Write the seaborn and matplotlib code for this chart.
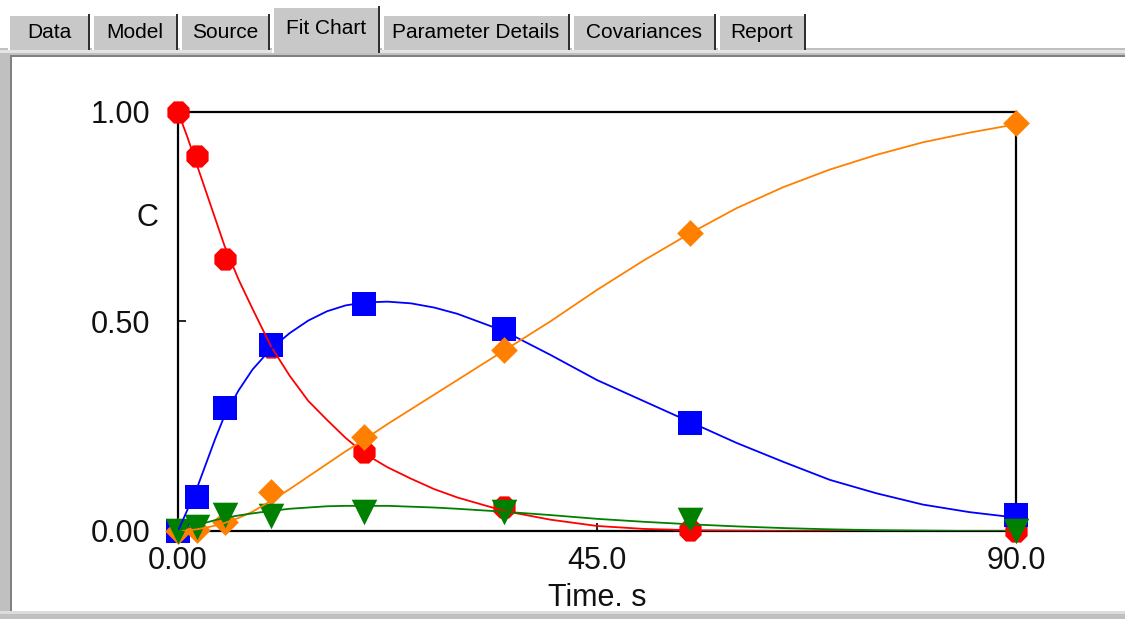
import numpy as np
import pandas as pd
import matplotlib
matplotlib.use("Agg")
import matplotlib.pyplot as plt
from matplotlib.patches import Rectangle
import seaborn as sns

# ---------------- data ----------------
t_obs = [0, 2, 5, 10, 20, 35, 55, 90]
red_obs = [1.000, 0.895, 0.649, 0.440, 0.188, 0.057, 0.002, 0.000]
blue_obs = [0.000, 0.081, 0.293, 0.444, 0.541, 0.482, 0.258, 0.038]
orange_obs = [0.000, 0.002, 0.021, 0.093, 0.224, 0.432, 0.711, 0.973]
green_obs = [0.000, 0.010, 0.038, 0.036, 0.045, 0.045, 0.026, 0.000]

t_fit = [0, 1, 2, 3, 4, 5, 6.5, 8, 10, 12, 14, 16, 18, 20, 22.5, 25, 27.5,
         30, 35, 40, 45, 50, 55, 60, 65, 70, 75, 80, 85, 90]
red_fit = [1.000, 0.940, 0.875, 0.810, 0.745, 0.680, 0.600, 0.530, 0.440,
           0.370, 0.310, 0.265, 0.222, 0.185, 0.152, 0.125, 0.100, 0.080,
           0.048, 0.027, 0.012, 0.005, 0.002, 0.001, 0.000, 0.000, 0.000,
           0.000, 0.000, 0.000]
blue_fit = [0.000, 0.050, 0.100, 0.160, 0.220, 0.275, 0.335, 0.385, 0.435,
            0.472, 0.502, 0.524, 0.538, 0.545, 0.547, 0.543, 0.533, 0.518,
            0.477, 0.420, 0.360, 0.310, 0.260, 0.210, 0.165, 0.122, 0.090,
            0.063, 0.045, 0.032]
orange_fit = [0.000, 0.001, 0.004, 0.008, 0.013, 0.019, 0.031, 0.046, 0.072,
              0.100, 0.130, 0.160, 0.190, 0.218, 0.255, 0.290, 0.325, 0.360,
              0.430, 0.500, 0.575, 0.645, 0.710, 0.770, 0.820, 0.862, 0.897,
              0.927, 0.950, 0.970]
green_fit = [0.000, 0.008, 0.015, 0.020, 0.026, 0.031, 0.037, 0.042, 0.048,
             0.053, 0.056, 0.059, 0.060, 0.060, 0.060, 0.058, 0.056, 0.053,
             0.046, 0.038, 0.029, 0.022, 0.016, 0.011, 0.007, 0.004, 0.002,
             0.001, 0.000, 0.000]

species = ["A", "B", "C", "D"]
colors = ["#ff0000", "#0000ff", "#ff8000", "#008000"]
markers = ["8", "s", "D", "v"]
msizes = [300, 290, 185, 340]

x_ticks = [0, 45, 90]
x_ticklabels = ["0.00", "45.0", "90.0"]
y_ticks = [0, 0.5, 1.0]
y_ticklabels = ["0.00", "0.50", "1.00"]
tab_labels = ["Data", "Model", "Source", "Fit Chart", "Parameter Details",
              "Covariances", "Report"]

# ---------------- figure ----------------
W, H = 1125, 619
sns.set_theme(style="white")
plt.rcParams["font.family"] = ["Liberation Sans", "DejaVu Sans"]

fig = plt.figure(figsize=(W / 100, H / 100), dpi=100)
fig.patch.set_facecolor("white")


def rect(x0, y0, x1, y1, color, z=-10):
    fig.add_artist(Rectangle((x0 / W, 1 - y1 / H), (x1 - x0) / W, (y1 - y0) / H,
                             transform=fig.transFigure, facecolor=color,
                             edgecolor="none", zorder=z))


# window chrome: panel frame
rect(0, 48, W, H, "#c0c0c0")
rect(0, 50, W, 53, "#e4e4e4", z=-9)
rect(10, 55, W, 57, "#808080", z=-9)
rect(10, 55, 12, 611, "#808080", z=-9)
rect(12, 57, W, 611, "white", z=-8)
rect(0, 611, W, 614, "#dcdcdc", z=-8)

# tabs
tab_x = [(8, 90), (92, 178), (180, 270), (272, 380), (382, 570),
         (572, 716), (718, 806)]
for lab, (x0, x1) in zip(tab_labels, tab_x):
    sel = lab == "Fit Chart"
    y0 = 6 if sel else 14
    y1 = 53 if sel else 50
    rect(x0, y0, x1, y1, "#c8c8c8", z=-7)
    rect(x0, y0, x1 - 2, y0 + 1.5, "white", z=-6)
    rect(x0, y0, x0 + 1.5, y1, "white", z=-6)
    rect(x1 - 2.5, y0, x1, y1, "#303030", z=-6)
    cy = 28 if sel else 33
    fig.text((x0 + x1) / 2 / W, 1 - cy / H, lab, ha="center", va="center",
             fontsize=15, color="black")

# ---------------- axes ----------------
ax_l, ax_r, ax_t, ax_b = 178, 1016, 111.7, 531
ax = fig.add_axes([ax_l / W, 1 - ax_b / H, (ax_r - ax_l) / W, (ax_b - ax_t) / H])
ax.set_facecolor("white")

fit_df = pd.DataFrame({
    "t": t_fit * 4,
    "C": red_fit + blue_fit + orange_fit + green_fit,
    "species": sum([[s] * len(t_fit) for s in species], []),
})
obs_list = [red_obs, blue_obs, orange_obs, green_obs]

for s, c, m, ms, obs in zip(species, colors, markers, msizes, obs_list):
    sns.scatterplot(x=t_obs, y=obs, color=c, marker=m, s=ms, linewidth=0,
                    ax=ax, clip_on=False, zorder=3, legend=False)

sns.lineplot(data=fit_df, x="t", y="C", hue="species",
             palette=dict(zip(species, colors)), legend=False,
             linewidth=1.3, sort=False, estimator=None, ax=ax, zorder=4)

ax.set_xlim(0, 90)
ax.set_ylim(0, 1)
for sp in ax.spines.values():
    sp.set_visible(True)
    sp.set_color("black")
    sp.set_linewidth(1.6)

ax.set_xticks(x_ticks)
ax.set_xticklabels(x_ticklabels)
ax.set_yticks(y_ticks)
ax.set_yticklabels(y_ticklabels)
ax.tick_params(axis="both", direction="in", length=6, width=1.2,
               colors="black", labelsize=22, bottom=True, left=True)
ax.tick_params(axis="y", pad=20)
ax.tick_params(axis="x", pad=11)
for lab in ax.get_xticklabels() + ax.get_yticklabels():
    lab.set_color("#111111")

ax.set_ylabel("C", rotation=0, fontsize=22, color="#111111", ha="center",
              va="center")
ax.yaxis.set_label_coords((147 - ax_l) / (ax_r - ax_l), (ax_b - 218) / (ax_b - ax_t))
ax.set_xlabel("Time. s", fontsize=22, color="#111111", va="center")
ax.xaxis.set_label_coords(0.5, (ax_b - 598) / (ax_b - ax_t))

fig.savefig("out.png", dpi=100)
